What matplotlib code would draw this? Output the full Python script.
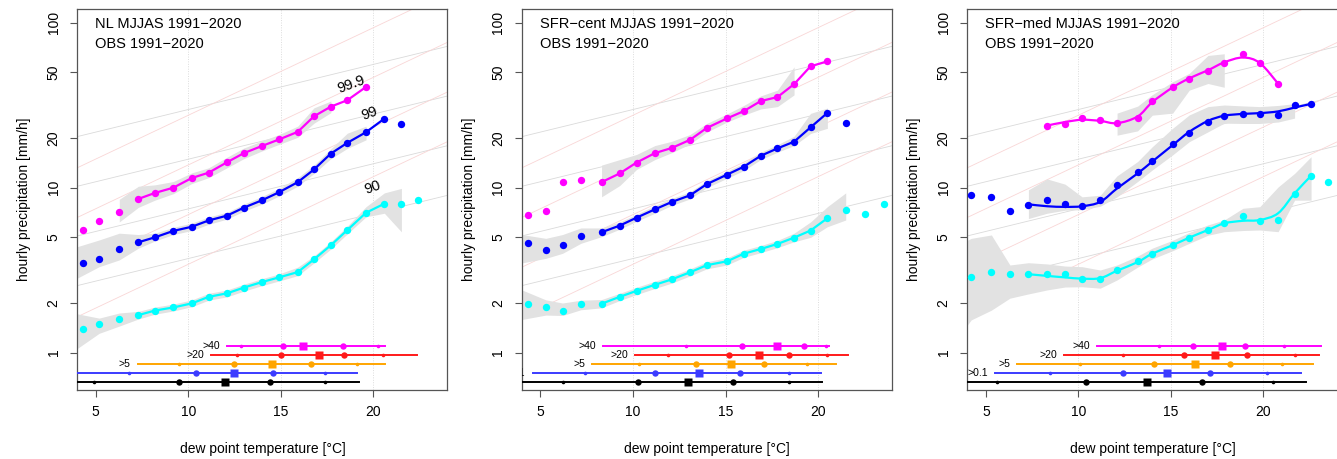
import matplotlib
matplotlib.use('Agg')
import matplotlib.pyplot as plt
import numpy as np
from matplotlib.path import Path
from matplotlib.patches import PathPatch
from matplotlib.ticker import FixedLocator, NullLocator, FixedFormatter

plt.rcParams['font.family'] = ['Liberation Sans', 'DejaVu Sans']

# ---------------- text ----------------
TITLES = ["NL MJJAS 1991\u22122020", "SFR\u2212cent MJJAS 1991\u22122020", "SFR\u2212med MJJAS 1991\u22122020"]
SUBTITLE = "OBS 1991\u22122020"
XLABEL = "dew point temperature [\u00b0C]"
YLABEL = "hourly precipitation [mm/h]"
YTICKS = [1, 2, 5, 10, 20, 50, 100]
YTICKLABELS = ["1", "2", "5", "10", "20", "50", "100"]
XTICKS = [5, 10, 15, 20]
BAR_LABELS = [">40", ">20", ">5", ">0.1", ""]

# ---------------- panel 1: NL ----------------
P1_X = [4.3, 5.18, 6.27, 7.3, 8.19, 9.19, 10.19, 11.1, 12.09, 13.0, 13.98, 14.9, 15.91, 16.79, 17.7, 18.59, 19.6, 20.59, 21.51, 22.4]
P1_Q999 = [5.52, 6.31, 7.1, 8.55, 9.29, 10.0, 11.45, 12.33, 14.26, 16.2, 17.9, 19.6, 21.8, 27.1, 31.0, 33.9, 40.8]
P1_Q99 = [3.48, 3.68, 4.27, 4.67, 5.0, 5.47, 5.8, 6.33, 6.77, 7.57, 8.39, 9.38, 10.8, 12.9, 16.1, 18.7, 21.7, 26.2, 24.3]
P1_Q90 = [1.39, 1.49, 1.59, 1.69, 1.80, 1.88, 1.99, 2.18, 2.29, 2.48, 2.68, 2.86, 3.08, 3.68, 4.48, 5.54, 7.05, 8.0, 8.0, 8.42]
P1_LINE_RANGE = [(3, 16), (3, 17), (3, 17)]

P1_B999_X = [6.27, 7.3, 8.19, 9.19, 10.19, 11.1, 12.09, 13.0, 13.98, 14.9, 15.91, 16.79, 17.7]
P1_B999_LO = [6.2, 7.6, 8.4, 9.2, 10.6, 11.5, 13.2, 15.0, 16.7, 18.3, 20.2, 24.6, 28.5]
P1_B999_HI = [8.5, 10.2, 10.4, 10.9, 12.3, 13.2, 15.3, 17.4, 19.2, 21.0, 23.6, 30.5, 33.5]
P1_B99_X = [4.0, 5.18, 6.27, 7.3, 8.19, 9.19, 10.19, 11.1, 12.09, 13.0, 13.98, 14.9, 15.91, 16.79, 17.7, 18.59, 19.6]
P1_B99_LO = [2.83, 3.32, 3.65, 4.3, 4.75, 5.2, 5.5, 6.0, 6.45, 7.2, 7.95, 8.9, 10.2, 12.2, 15.0, 17.3, 19.5]
P1_B99_HI = [4.39, 4.82, 5.3, 5.2, 5.3, 5.75, 6.1, 6.65, 7.1, 7.95, 8.85, 9.9, 11.5, 13.7, 17.2, 21.4, 23.6]
P1_B90_X = [4.0, 5.18, 6.27, 7.3, 8.19, 9.19, 10.19, 11.1, 12.09, 13.0, 13.98, 14.9, 15.91, 16.79, 17.7, 18.59, 19.6, 20.59, 21.51]
P1_B90_LO = [1.06, 1.31, 1.45, 1.6, 1.71, 1.79, 1.9, 2.08, 2.18, 2.36, 2.55, 2.72, 2.93, 3.5, 4.25, 5.25, 6.66, 7.0, 5.4]
P1_B90_HI = [1.72, 1.62, 1.74, 1.78, 1.89, 1.97, 2.09, 2.29, 2.40, 2.6, 2.81, 3.0, 3.3, 3.86, 4.7, 5.85, 7.67, 9.3, 9.9]

# bars: min, p5, p25, median, p75, p95, max   (rows >40, >20, >5, >0.1, all)
P1_BARS = [[12.08, 12.85, 15.13, 16.18, 18.34, 20.24, 20.63],
           [11.25, 12.65, 15.0, 17.08, 18.4, 20.54, 22.34],
           [7.27, 9.5, 12.49, 14.5, 16.6, 19.1, 20.63],
           [3.0, 6.8, 10.4, 12.49, 14.6, 17.39, 19.13],
           [3.0, 4.89, 9.48, 12.0, 14.4, 17.39, 19.22]]

P1_CURVE_LABELS = ["99.9", "99", "90"]
P1_CURVE_LABEL_X = [18.78, 19.82, 19.94]
P1_CURVE_LABEL_Y = [42.5, 28.0, 10.06]

# ---------------- panel 2: SFR-cent ----------------
P2_X = [4.30, 5.29, 6.19, 7.18, 8.30, 9.28, 10.19, 11.18, 12.09, 13.08, 13.98, 15.08, 15.98, 16.9, 17.8, 18.7, 19.59, 20.5, 21.49, 22.52, 23.58]
P2_Q999 = [6.8, 7.26, 10.9, 11.2, 10.8, 12.2, 14.2, 16.2, 17.4, 19.5, 23.0, 26.3, 29.1, 33.5, 35.4, 42.4, 54.4, 58.3]
P2_Q99 = [4.6, 4.19, 4.48, 5.07, 5.37, 5.89, 6.58, 7.39, 8.19, 8.99, 10.5, 12.0, 13.4, 15.6, 17.3, 19.0, 23.2, 28.4, 24.6]
P2_Q90 = [1.98, 1.89, 1.79, 1.98, 1.98, 2.18, 2.37, 2.58, 2.78, 3.07, 3.39, 3.58, 3.98, 4.25, 4.56, 4.98, 5.5, 6.53, 7.33, 6.96, 8.0]
P2_LINE_RANGE = [(4, 17), (4, 17), (4, 17)]

P2_B999_X = [8.30, 9.28, 10.19, 11.18, 12.09, 13.08, 13.98, 15.08, 15.98, 16.9, 17.8, 18.7]
P2_B999_LO = [8.8, 10.3, 12.9, 14.8, 16.3, 18.4, 21.7, 25.0, 27.5, 30.0, 31.0, 36.5]
P2_B999_HI = [13.7, 14.8, 15.9, 18.0, 19.1, 21.0, 24.5, 28.0, 31.5, 36.0, 39.0, 54.0]
P2_B99_X = [4.0, 5.29, 6.19, 7.18, 8.30, 9.28, 10.19, 11.18, 12.09, 13.08, 13.98, 15.08, 15.98, 16.9, 17.8, 18.7, 19.59, 20.5]
P2_B99_LO = [3.5, 3.73, 4.0, 4.6, 5.05, 5.6, 6.25, 7.0, 7.8, 8.55, 10.0, 11.4, 12.7, 14.8, 16.4, 18.0, 21.3, 22.9]
P2_B99_HI = [5.2, 4.93, 5.2, 5.7, 5.7, 6.2, 6.9, 7.8, 8.6, 9.45, 11.0, 12.6, 14.1, 16.4, 18.2, 20.5, 28.2, 30.4]
P2_B90_X = [4.0, 5.29, 6.19, 7.18, 8.30, 9.28, 10.19, 11.18, 12.09, 13.08, 13.98, 15.08, 15.98, 16.9, 17.8, 18.7, 19.59, 20.5, 21.49]
P2_B90_LO = [1.59, 1.69, 1.68, 1.82, 1.87, 2.07, 2.25, 2.45, 2.64, 2.92, 3.22, 3.4, 3.78, 4.04, 4.33, 4.7, 5.0, 5.8, 6.37]
P2_B90_HI = [2.4, 2.09, 2.0, 2.08, 2.1, 2.29, 2.49, 2.71, 2.92, 3.22, 3.56, 3.76, 4.18, 4.46, 4.79, 5.3, 6.2, 7.67, 9.3]

P2_BARS = [[8.37, 12.85, 15.89, 17.78, 19.21, 20.43, 20.61],
           [10.09, 11.89, 15.19, 16.79, 18.41, 20.5, 21.64],
           [7.79, 10.31, 13.39, 15.28, 17.08, 19.4, 20.94],
           [4.57, 7.39, 11.21, 13.59, 15.78, 18.4, 20.13],
           [3.0, 6.19, 10.29, 12.99, 15.41, 18.4, 20.21]]

# ---------------- panel 3: SFR-med ----------------
P3_X = [4.21, 5.3, 6.3, 7.3, 8.31, 9.28, 10.2, 11.18, 12.09, 13.2, 13.99, 15.09, 15.99, 17.0, 17.88, 18.89, 19.8, 20.79, 21.68, 22.57, 23.49]
P3_Q999_START = 4
P3_Q999 = [23.8, 24.3, 26.6, 25.6, 24.7, 26.5, 33.4, 40.9, 45.8, 51.2, 57.3, 64.6, 56.8, 42.7]
P3_Q99 = [9.03, 8.79, 7.22, 7.82, 8.39, 8.0, 7.78, 8.39, 10.4, 12.4, 14.5, 18.4, 21.5, 25.1, 27.1, 28.1, 28.0, 27.6, 31.8, 32.0]
P3_Q90 = [2.89, 3.07, 2.99, 2.99, 2.99, 2.99, 2.78, 2.78, 3.17, 3.58, 3.98, 4.48, 4.98, 5.56, 6.08, 6.77, 6.28, 6.37, 9.12, 11.8, 10.8]
# smooth fitted curves (value of the curve at each bin)
P3_FIT999_RANGE = (4, 17)
P3_FIT999 = [23.8, 25.0, 25.8, 25.4, 24.6, 27.0, 33.0, 40.5, 46.0, 51.5, 57.5, 61.5, 57.0, 42.7]
P3_FIT99_RANGE = (3, 19)
P3_FIT99 = [7.93, 7.72, 7.65, 7.72, 8.2, 9.9, 12.2, 14.4, 18.1, 21.8, 25.4, 27.3, 28.0, 28.3, 29.0, 30.6, 32.2]
P3_FIT90_RANGE = (3, 19)
P3_FIT90 = [2.99, 2.92, 2.86, 2.81, 2.83, 3.14, 3.54, 3.98, 4.48, 4.98, 5.54, 6.08, 6.3, 6.37, 7.0, 9.24, 11.8]

P3_B999_X = [12.09, 13.2, 13.99, 15.09, 15.99, 17.0, 17.88]
P3_B999_LO = [20.8, 22.1, 27.5, 28.3, 39.0, 42.8, 40.6]
P3_B999_HI = [28.3, 31.2, 36.6, 43.8, 49.3, 63.3, 64.8]
P3_B99_X = [7.3, 8.31, 9.28, 10.2, 11.18, 12.09, 13.2, 13.99, 15.09, 15.99, 17.0, 17.88, 18.89, 19.8, 20.79, 21.68]
P3_B99_LO = [6.5, 7.0, 7.3, 7.35, 7.72, 8.8, 10.9, 12.8, 15.8, 19.0, 21.8, 24.6, 24.5, 24.5, 25.0, 26.4]
P3_B99_HI = [9.7, 11.3, 10.5, 8.8, 9.0, 11.8, 14.4, 17.7, 22.9, 27.6, 31.0, 31.7, 31.3, 31.0, 31.5, 32.3]
P3_B90_X = [4.0, 4.21, 5.3, 6.3, 7.3, 8.31, 9.28, 10.2, 11.18, 12.09, 13.2, 13.99, 15.09, 15.99, 17.0, 17.88, 18.89, 19.8, 20.79, 21.68, 22.57]
P3_B90_LO = [1.47, 1.58, 1.81, 2.14, 2.27, 2.4, 2.5, 2.51, 2.46, 2.76, 3.3, 3.7, 4.15, 4.6, 5.15, 5.41, 5.5, 5.54, 5.41, 8.4, 8.4]
P3_B90_HI = [4.8, 4.93, 5.17, 3.4, 3.51, 3.45, 3.35, 3.32, 3.17, 3.4, 3.85, 4.3, 4.8, 5.35, 5.95, 6.37, 7.5, 7.67, 10.1, 12.2, 15.4]

P3_BARS = [[11.03, 14.34, 16.19, 17.78, 18.99, 21.12, 23.08],
           [9.21, 12.39, 15.7, 17.39, 19.09, 21.71, 22.98],
           [6.69, 10.08, 14.08, 16.3, 18.2, 20.99, 22.68],
           [5.49, 8.49, 12.39, 14.79, 17.09, 20.2, 22.0],
           [3.0, 5.6, 10.4, 13.69, 16.7, 20.49, 22.29]]

# ---------------- reference scaling lines ----------------
REF_T0 = 4.0
REF_T1 = 24.0
CC_BASE = [2.55, 5.1, 10.2, 20.4]       # ~6.5 %/K lines (grey)
CC_RATE = 1.065
CC2_BASE = [1.65, 3.3, 6.6, 13.2]       # ~13 %/K lines (pink)
CC2_RATE = 1.13

# ---------------- styles ----------------
Q_COLORS = ['#ff00ff', '#0000ff', '#00ffff']
BAR_COLORS = ['#ff00ff', '#ff1a1a', '#ffa500', '#3b3bff', '#000000']
BAR_Y = [1.1, 0.97, 0.85, 0.75, 0.66]
BAND_COLOR = '#e2e2e2'
FRAME = '#555555'

fig = plt.figure(figsize=(13.37, 4.59), dpi=100)
LEFTS = [0.0578, 0.3904, 0.7235]
W, B, H = 0.2769, 0.1503, 0.8294


def smooth_path(xs, ys):
    """Catmull-Rom curve through (x, log y) drawn as cubic Bezier segments."""
    X = np.asarray(xs, float)
    L = np.log(np.asarray(ys, float))
    P = np.column_stack([X, L])
    Pe = np.vstack([P[0], P, P[-1]])
    verts = [P[0]]
    codes = [Path.MOVETO]
    for i in range(len(P) - 1):
        p0, p1, p2, p3 = Pe[i], Pe[i + 1], Pe[i + 2], Pe[i + 3]
        c1 = p1 + (p2 - p0) / 6.0
        c2 = p2 - (p3 - p1) / 6.0
        verts += [c1, c2, p2]
        codes += [Path.CURVE4] * 3
    V = np.array(verts)
    V[:, 1] = np.exp(V[:, 1])
    return Path(V, codes)


def setup(ax, title):
    ax.set_yscale('log')
    ax.set_xlim(4, 24)
    ax.set_ylim(0.594, 120.5)
    ax.yaxis.set_major_locator(FixedLocator(YTICKS))
    ax.yaxis.set_major_formatter(FixedFormatter(YTICKLABELS))
    ax.yaxis.set_minor_locator(NullLocator())
    ax.xaxis.set_major_locator(FixedLocator(XTICKS))
    ax.xaxis.set_minor_locator(NullLocator())
    for s in ax.spines.values():
        s.set_color(FRAME)
        s.set_linewidth(0.9)
    ax.tick_params(axis='both', colors=FRAME, length=5, width=0.8, labelsize=10,
                   labelcolor='black')
    ax.tick_params(axis='x', pad=6)
    ax.tick_params(axis='y', pad=7)
    for lab in ax.get_yticklabels():
        lab.set_rotation(90)
        lab.set_va('center')
    ax.set_xlabel(XLABEL, fontsize=10, labelpad=16)
    ax.set_ylabel(YLABEL, fontsize=10, labelpad=11)
    for xv in [10, 15, 20]:
        ax.axvline(xv, color='#dcdcdc', lw=0.7, ls=(0, (1, 1.5)), zorder=0.5)
    for b in CC_BASE:
        ax.plot([REF_T0, REF_T1], [b, b * CC_RATE ** (REF_T1 - REF_T0)],
                color='#dadada', lw=0.6, zorder=1)
    for b in CC2_BASE:
        ax.plot([REF_T0, REF_T1], [b, b * CC2_RATE ** (REF_T1 - REF_T0)],
                color='#f9d6d6', lw=0.6, zorder=1)
    ax.text(0.048, 0.962, title, transform=ax.transAxes, va='center', ha='left', fontsize=10.5)
    ax.text(0.048, 0.909, SUBTITLE, transform=ax.transAxes, va='center', ha='left', fontsize=10.5)


def bands(ax, blist):
    for bx, lo, hi in blist:
        ax.fill_between(bx, lo, hi, color=BAND_COLOR, lw=0, zorder=2)


def points(ax, xs, series):
    for ys, c in zip(series, Q_COLORS):
        ax.plot(xs[:len(ys)], ys, 'o', color=c, ms=5.3, mec='none', zorder=4)


def poly_lines(ax, xs, series, ranges):
    for ys, c, (i0, i1) in zip(series, Q_COLORS, ranges):
        ax.plot(xs[i0:i1 + 1], ys[i0:i1 + 1], '-', color=c, lw=1.6, zorder=3)


def bars(ax, rows):
    for r, yv, c, lbl in zip(rows, BAR_Y, BAR_COLORS, BAR_LABELS):
        mn, p5, p25, med, p75, p95, mx = r
        ax.plot([mn, mx], [yv, yv], '-', color=c, lw=1.4, zorder=3)
        ax.plot([p5, p95], [yv, yv], 'o', color=c, ms=2.6, mec='none', zorder=4)
        ax.plot([p25, p75], [yv, yv], 'o', color=c, ms=4.6, mec='none', zorder=4)
        ax.plot([med], [yv], 's', color=c, ms=5.2, mec='none', zorder=4)
        if lbl and mn > 4.0:
            ax.annotate(lbl, (mn, yv), xytext=(-5, 0), textcoords='offset points',
                        ha='right', va='center', fontsize=7.5, clip_on=True)


# ---- panel 1
ax1 = fig.add_axes([LEFTS[0], B, W, H])
setup(ax1, TITLES[0])
bands(ax1, [(P1_B999_X, P1_B999_LO, P1_B999_HI), (P1_B99_X, P1_B99_LO, P1_B99_HI),
            (P1_B90_X, P1_B90_LO, P1_B90_HI)])
poly_lines(ax1, P1_X, [P1_Q999, P1_Q99, P1_Q90], P1_LINE_RANGE)
points(ax1, P1_X, [P1_Q999, P1_Q99, P1_Q90])
bars(ax1, P1_BARS)
for t, xv, yv in zip(P1_CURVE_LABELS, P1_CURVE_LABEL_X, P1_CURVE_LABEL_Y):
    ax1.text(xv, yv, t, rotation=20, ha='center', va='center', fontsize=10.5, zorder=5)

# ---- panel 2
ax2 = fig.add_axes([LEFTS[1], B, W, H])
setup(ax2, TITLES[1])
bands(ax2, [(P2_B999_X, P2_B999_LO, P2_B999_HI), (P2_B99_X, P2_B99_LO, P2_B99_HI),
            (P2_B90_X, P2_B90_LO, P2_B90_HI)])
poly_lines(ax2, P2_X, [P2_Q999, P2_Q99, P2_Q90], P2_LINE_RANGE)
points(ax2, P2_X, [P2_Q999, P2_Q99, P2_Q90])
bars(ax2, P2_BARS)

# ---- panel 3
ax3 = fig.add_axes([LEFTS[2], B, W, H])
setup(ax3, TITLES[2])
bands(ax3, [(P3_B999_X, P3_B999_LO, P3_B999_HI), (P3_B99_X, P3_B99_LO, P3_B99_HI),
            (P3_B90_X, P3_B90_LO, P3_B90_HI)])
for fit, (i0, i1), c in zip([P3_FIT999, P3_FIT99, P3_FIT90],
                            [P3_FIT999_RANGE, P3_FIT99_RANGE, P3_FIT90_RANGE], Q_COLORS):
    pth = smooth_path(P3_X[i0:i1 + 1], fit)
    ax3.add_patch(PathPatch(pth, fill=False, edgecolor=c, lw=1.6, zorder=3))
ax3.plot(P3_X[P3_Q999_START:P3_Q999_START + len(P3_Q999)], P3_Q999, 'o',
         color=Q_COLORS[0], ms=5.3, mec='none', zorder=4)
ax3.plot(P3_X[:len(P3_Q99)], P3_Q99, 'o', color=Q_COLORS[1], ms=5.3, mec='none', zorder=4)
ax3.plot(P3_X[:len(P3_Q90)], P3_Q90, 'o', color=Q_COLORS[2], ms=5.3, mec='none', zorder=4)
bars(ax3, P3_BARS)

fig.savefig('out.png', dpi=100)
